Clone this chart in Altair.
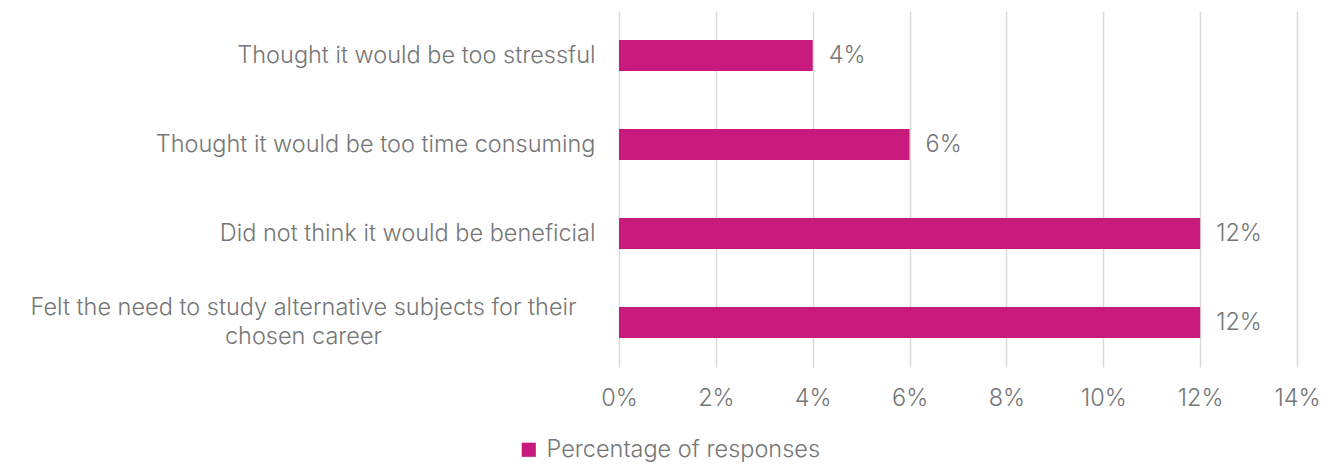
import altair as alt
import pandas as pd

categories = [
    "Thought it would be too stressful",
    "Thought it would be too time consuming",
    "Did not think it would be beneficial",
    "Felt the need to study alternative subjects for their chosen career",
]
values = [4, 6, 12, 12]
series_name = "Percentage of responses"
x_ticks = [0, 2, 4, 6, 8, 10, 12, 14]

df = pd.DataFrame({"reason": categories, "value": values, "series": series_name})
df["label"] = df["value"].astype(str) + "%"

FONT = "Inter"
FS = 23.5
GREY = "#767676"
MAGENTA = "#C8197D"
long_label = categories[3]
is_long = "datum.value == '" + long_label + "'"

y_enc = alt.Y(
    "reason:N",
    sort=categories,
    scale=alt.Scale(paddingInner=0.65, paddingOuter=0.325),
    axis=alt.Axis(
        title=None,
        ticks=False,
        domain=False,
        labelFont=FONT,
        labelFontSize=FS,
        labelFontWeight=300,
        labelColor=GREY,
        labelLimit=700,
        labelLineHeight=29,
        labelExpr=is_long + " ? ['Felt the need to study alternative subjects for their', 'chosen career'] : datum.value",
        labelAlign={"condition": {"test": is_long, "value": "center"}, "value": "right"},
        labelPadding={"condition": {"test": is_long, "value": 316}, "value": 24},
        labelOffset={"condition": {"test": is_long, "value": -15}, "value": 0},
    ),
)

x_enc = alt.X(
    "value:Q",
    scale=alt.Scale(domain=[0, 14], nice=False),
    axis=alt.Axis(
        title=None,
        values=x_ticks,
        labelExpr="datum.value + '%'",
        ticks=False,
        domain=False,
        grid=True,
        gridColor="#D9D9D9",
        gridWidth=1.5,
        labelFont=FONT,
        labelFontSize=FS,
        labelFontWeight=300,
        labelColor=GREY,
        labelPadding=19,
        labelFlush=False,
    ),
)

bars = alt.Chart(df).mark_bar(color=MAGENTA).encode(
    x=x_enc,
    y=y_enc,
    color=alt.Color(
        "series:N",
        scale=alt.Scale(range=[MAGENTA]),
        legend=alt.Legend(
            title=None,
            orient="none",
            legendX=-102,
            legendY=427,
            symbolType="square",
            symbolSize=200,
            symbolOpacity=1,
            labelFont=FONT,
            labelFontSize=FS,
            labelFontWeight=300,
            labelColor=GREY,
            labelLimit=500,
            labelOffset=6,
        ),
    ),
)

text = alt.Chart(df).mark_text(
    align="left", dx=16, font=FONT, fontSize=FS, fontWeight=300, color=GREY
).encode(
    x=alt.X("value:Q"),
    y=alt.Y("reason:N", sort=categories),
    text="label:N",
)

chart = (
    alt.layer(bars, text)
    .properties(
        width=678,
        height=356,
        autosize="none",
        padding={"left": 611, "top": 3, "right": 30, "bottom": 95},
    )
    .configure_view(stroke=None)
)

chart.save("out.html", embed_options={"renderer": "svg", "actions": False})
